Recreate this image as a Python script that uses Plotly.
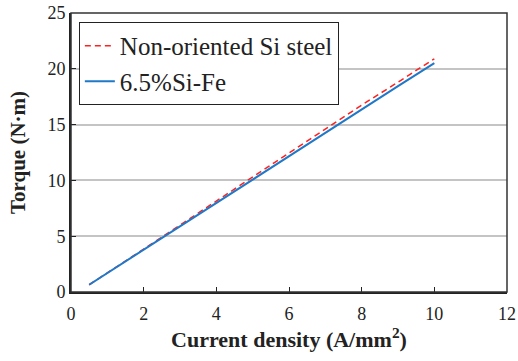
import plotly.graph_objects as go

current = [0.5, 1, 2, 3, 4, 5, 6, 7, 8, 9, 10]
torque_nonoriented = [0.65, 1.7, 3.85, 6.0, 8.15, 10.3, 12.45, 14.6, 16.75, 18.8, 20.9]
torque_sife = [0.65, 1.7, 3.8, 5.9, 8.0, 10.1, 12.2, 14.3, 16.4, 18.45, 20.5]

x_ticks = [0, 2, 4, 6, 8, 10, 12]
y_ticks = [0, 5, 10, 15, 20, 25]

font_family = "Liberation Serif"

fig = go.Figure()
fig.add_trace(go.Scatter(x=current, y=torque_nonoriented, mode="lines",
                         name="Non-oriented Si steel",
                         line=dict(color="#ff2020", width=1.5, dash="6px,4px")))
fig.add_trace(go.Scatter(x=current, y=torque_sife, mode="lines",
                         name="6.5%Si-Fe",
                         line=dict(color="#1f78c8", width=2)))

tickfont = dict(size=18, family=font_family, color="#222222")

fig.update_layout(
    width=518, height=361,
    margin=dict(l=71, r=11, t=13, b=69),
    paper_bgcolor="white", plot_bgcolor="white",
    font=dict(family=font_family, color="#222222", size=18),
    showlegend=True,
    legend=dict(x=0.018, y=0.968, xanchor="left", yanchor="top",
                bordercolor="#222222", borderwidth=1, bgcolor="white",
                font=dict(size=25, family=font_family, color="#222222"),
                tracegroupgap=0, itemwidth=30),
    xaxis=dict(range=[0, 12], tickvals=x_ticks, ticks="inside", ticklen=5,
               tickfont=tickfont, automargin=False, ticklabelstandoff=4,
               tickcolor="#222222", showline=True, linecolor="#222222", linewidth=2,
               showgrid=False, zeroline=False,
               title=dict(text="<b>Current density (A/mm<sup>2</sup>)</b>",
                          font=dict(size=22, family=font_family), standoff=8)),
    yaxis=dict(range=[0, 25], tickvals=y_ticks, ticks="inside", ticklen=5,
               tickfont=tickfont, automargin=False,
               tickcolor="#222222", showline=True, linecolor="#222222", linewidth=2,
               showgrid=True, gridcolor="#c4c4c4", gridwidth=1.5, zeroline=False,
               title=dict(text="<b>Torque (N·m)</b>",
                          font=dict(size=21, family=font_family), standoff=16)),
    shapes=[dict(type="rect", xref="paper", yref="paper", x0=0, y0=0, x1=1, y1=1,
                 line=dict(color="#333333", width=1.5), layer="above")],
)

fig.write_html("out.html", config={"displayModeBar": False},
               post_script="document.body.style.margin='0';")
